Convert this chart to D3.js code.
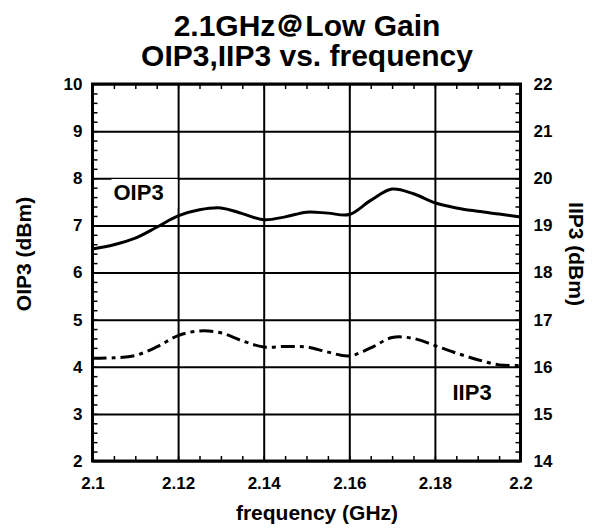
<!DOCTYPE html>
<html>
<head>
<meta charset="utf-8">
<script src="https://cdn.jsdelivr.net/npm/d3@7"></script>
<style>
  body { margin: 0; background: #fff; }
  text { font-family: 'Liberation Sans', Arial, sans-serif; font-weight: bold; }
</style>
</head>
<body>
<div id="chart"></div>
<script>
// data
const freqs = [2.100, 2.105, 2.110, 2.115, 2.120, 2.125, 2.130, 2.135, 2.140, 2.145, 2.150,
  2.155, 2.160, 2.165, 2.170, 2.175, 2.180, 2.185, 2.190, 2.195, 2.200]
const oip3 = [6.50, 6.59, 6.73, 6.96, 7.20, 7.33, 7.37, 7.25, 7.12, 7.18, 7.28,
  7.26, 7.23, 7.53, 7.77, 7.67, 7.48, 7.37, 7.30, 7.24, 7.18]
const iip3 = [16.18, 16.19, 16.24, 16.42, 16.66, 16.76, 16.72, 16.55, 16.42, 16.43, 16.42,
  16.31, 16.23, 16.40, 16.62, 16.60, 16.45, 16.29, 16.15, 16.04, 16.03]
const xTicks = [2.1, 2.12, 2.14, 2.16, 2.18, 2.2]
const leftTicks = [2, 3, 4, 5, 6, 7, 8, 9, 10]
const rightTicks = [14, 15, 16, 17, 18, 19, 20, 21, 22]

const margin = { top: 84, left: 92.5 }
const width = 428
const height = 377

const svg = d3.select('#chart')
  .append('svg')
  .attr('width', 599)
  .attr('height', 531)

// title
svg.append('text')
  .attr('x', 307).attr('y', 36)
  .attr('text-anchor', 'middle')
  .style('font-size', '30px')
  .text('2.1GHz＠Low Gain')
svg.append('text')
  .attr('x', 307).attr('y', 66)
  .attr('text-anchor', 'middle')
  .style('font-size', '30px')
  .text('OIP3,IIP3 vs. frequency')

const g = svg.append('g')
  .attr('transform', 'translate(' + margin.left + ',' + margin.top + ')')

const x = d3.scaleLinear().domain([2.1, 2.2]).range([0, width])
const yL = d3.scaleLinear().domain([2, 10]).range([height, 0])
const yR = d3.scaleLinear().domain([14, 22]).range([height, 0])

// grid lines
g.append('g')
  .attr('class', 'grid')
  .attr('transform', 'translate(0,' + height + ')')
  .call(d3.axisBottom(x).tickValues(xTicks).tickSize(-height).tickFormat(''))
g.append('g')
  .attr('class', 'grid')
  .call(d3.axisLeft(yL).tickValues(leftTicks).tickSize(-width).tickFormat(''))
g.selectAll('.grid line').attr('stroke', '#000').attr('stroke-width', 2)
g.selectAll('.grid .domain').remove()

// minor ticks, pointing inward on all four sides
const minorX = d3.range(0, 21).map(function (i) { return 2.1 + i * 0.005 })
const minorY = d3.range(0, 41).map(function (i) { return 2 + i * 0.2 })
const minorR = d3.range(0, 41).map(function (i) { return 14 + i * 0.2 })
g.append('g').attr('class', 'minor')
  .attr('transform', 'translate(0,' + height + ')')
  .call(d3.axisBottom(x).tickValues(minorX).tickSize(-5).tickFormat(''))
g.append('g').attr('class', 'minor')
  .call(d3.axisTop(x).tickValues(minorX).tickSize(-5).tickFormat(''))
g.append('g').attr('class', 'minor')
  .call(d3.axisLeft(yL).tickValues(minorY).tickSize(-5).tickFormat(''))
g.append('g').attr('class', 'minor')
  .attr('transform', 'translate(' + width + ',0)')
  .call(d3.axisRight(yR).tickValues(minorR).tickSize(-5).tickFormat(''))
g.selectAll('.minor line').attr('stroke', '#000').attr('stroke-width', 1.5)
g.selectAll('.minor .domain').remove()

// tick labels
const xLab = g.append('g')
  .attr('transform', 'translate(0,' + height + ')')
  .call(d3.axisBottom(x).tickValues(xTicks).tickSize(0).tickPadding(16).tickFormat(d3.format('')))
const lLab = g.append('g')
  .call(d3.axisLeft(yL).tickValues(leftTicks).tickSize(0).tickPadding(10))
const rLab = g.append('g')
  .attr('transform', 'translate(' + width + ',0)')
  .call(d3.axisRight(yR).tickValues(rightTicks).tickSize(0).tickPadding(13))
;[xLab, lLab, rLab].forEach(function (a) {
  a.select('.domain').remove()
  a.selectAll('text').attr('fill', '#000')
    .style('font-size', '17px')
    .style('font-weight', 'bold')
    .style('font-family', "'Liberation Sans', Arial, sans-serif")
})

// curves
const lineL = d3.line()
  .x(function (d, i) { return x(freqs[i]) })
  .y(function (d) { return yL(d) })
  .curve(d3.curveCatmullRom.alpha(0.5))
const lineR = d3.line()
  .x(function (d, i) { return x(freqs[i]) })
  .y(function (d) { return yR(d) })
  .curve(d3.curveCatmullRom.alpha(0.5))

g.append('path')
  .datum(oip3)
  .attr('d', lineL)
  .attr('fill', 'none')
  .attr('stroke', '#000')
  .attr('stroke-width', 3)

g.append('path')
  .datum(iip3)
  .attr('d', lineR)
  .attr('fill', 'none')
  .attr('stroke', '#000')
  .attr('stroke-width', 3)
  .attr('stroke-dasharray', '14,5,4,5')

// series labels with white boxes
g.append('rect')
  .attr('x', 19).attr('y', 95).attr('width', 66).attr('height', 29)
  .attr('fill', '#fff')
g.append('text')
  .attr('x', 21).attr('y', 116)
  .style('font-size', '22px')
  .text('OIP3')
g.append('text')
  .attr('x', 360).attr('y', 316)
  .style('font-size', '22px')
  .text('IIP3')

// frame
g.append('rect')
  .attr('width', width).attr('height', height)
  .attr('fill', 'none')
  .attr('stroke', '#000')
  .attr('stroke-width', 3)

// axis titles
svg.append('text')
  .attr('x', 317).attr('y', 520)
  .attr('text-anchor', 'middle')
  .style('font-size', '21px')
  .text('frequency (GHz)')
svg.append('text')
  .attr('transform', 'translate(31,254) rotate(-90)')
  .attr('text-anchor', 'middle')
  .style('font-size', '21px')
  .text('OIP3 (dBm)')
svg.append('text')
  .attr('transform', 'translate(569,254) rotate(90)')
  .attr('text-anchor', 'middle')
  .style('font-size', '21px')
  .text('IIP3 (dBm)')
</script>
</body>
</html>
